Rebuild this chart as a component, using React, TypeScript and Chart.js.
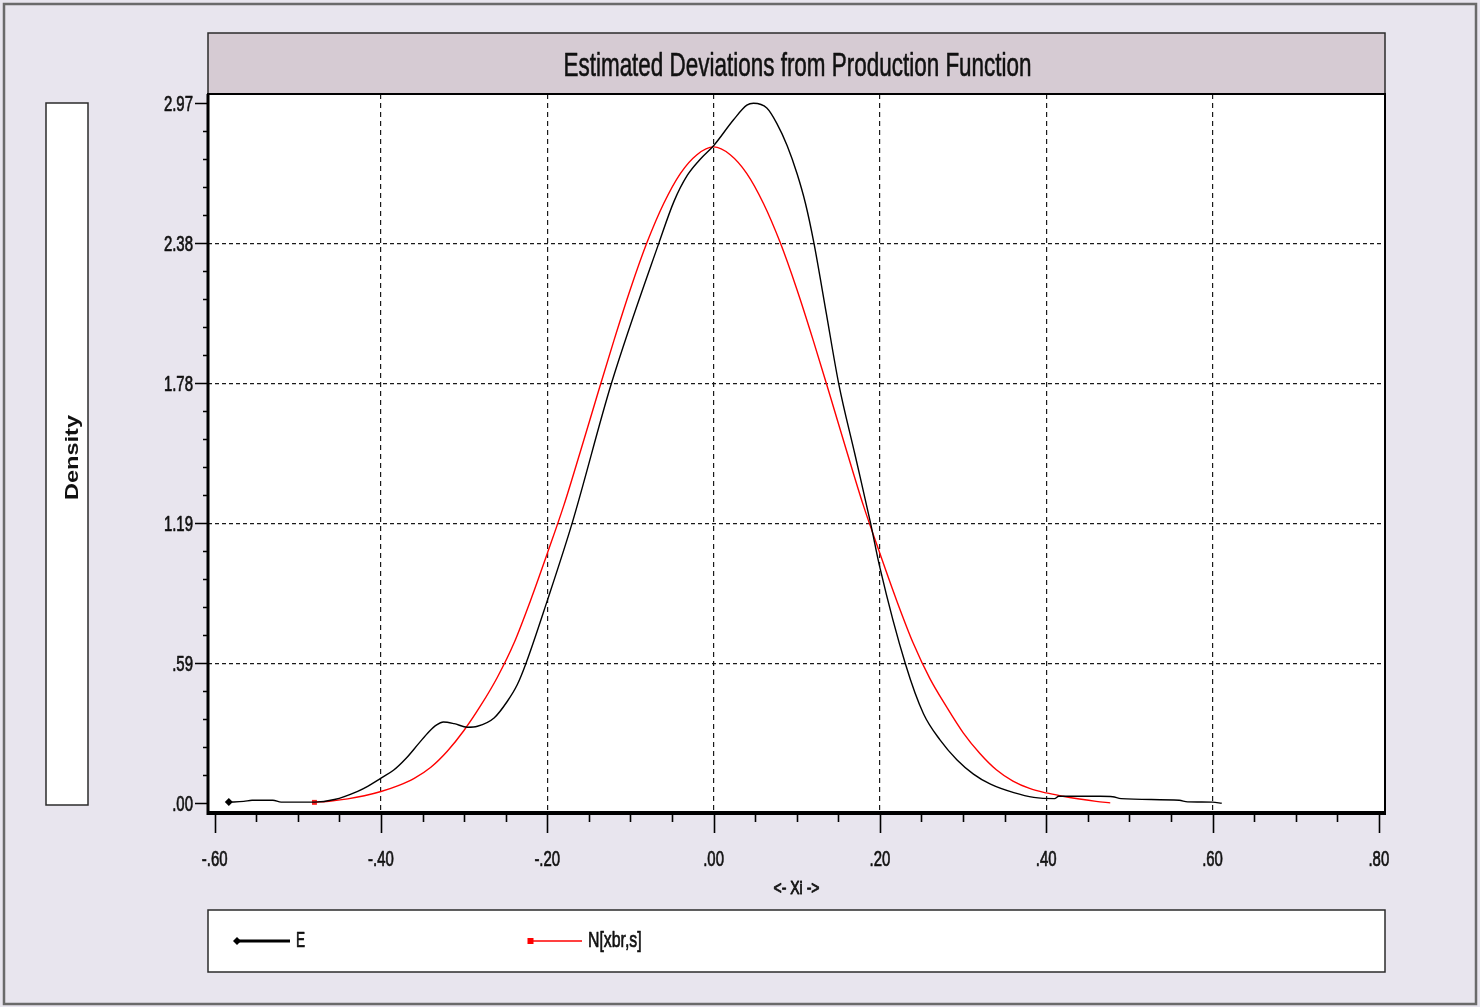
import React, { useEffect, useRef } from "react";
import { Chart, registerables } from "chart.js";

Chart.register(...registerables);

// ---------- data ----------
const chartTitle = "Estimated Deviations from Production Function";
const xAxisTitle = "<- Xi ->";
const yAxisTitle = "Density";
const seriesLabels = ["E", "N[xbr,s]"];

const xTickValues = [-0.6, -0.4, -0.2, 0, 0.2, 0.4, 0.6, 0.8];
const xTickLabels = ["-.60", "-.40", "-.20", ".00", ".20", ".40", ".60", ".80"];
const yTickValues = [0, 0.594, 1.188, 1.782, 2.376, 2.97];
const yTickLabels = [".00", ".59", "1.19", "1.78", "2.38", "2.97"];

// Kernel density estimate "E"
const eX = [
  -0.583, -0.565, -0.555, -0.53, -0.52, -0.48, -0.456, -0.428, -0.416, -0.4,
  -0.385, -0.37, -0.355, -0.342, -0.333, -0.325, -0.312, -0.296, -0.284, -0.264,
  -0.248, -0.236, -0.226, -0.2, -0.17, -0.123, -0.0655, -0.0475, -0.0315, -0.0155,
  0.0, 0.024, 0.04, 0.048, 0.064, 0.076, 0.0885, 0.1005, 0.1105, 0.1205,
  0.1355, 0.1505, 0.17, 0.1887, 0.2, 0.2308, 0.2524, 0.2725, 0.2925, 0.3125,
  0.333, 0.361, 0.385, 0.41, 0.415, 0.465, 0.48, 0.49, 0.56, 0.57,
  0.6, 0.611,
];
const eY = [
  0.005, 0.008, 0.013, 0.013, 0.005, 0.005, 0.016, 0.051, 0.072, 0.107,
  0.14, 0.19, 0.252, 0.305, 0.333, 0.345, 0.338, 0.323, 0.327, 0.362,
  0.433, 0.504, 0.59, 0.86, 1.19, 1.78, 2.38, 2.555, 2.665, 2.735,
  2.79, 2.9, 2.962, 2.97, 2.95, 2.885, 2.79, 2.67, 2.545, 2.38,
  2.08, 1.78, 1.48, 1.19, 1.0, 0.59, 0.38, 0.268, 0.185, 0.124,
  0.081, 0.045, 0.025, 0.02, 0.03, 0.03, 0.028, 0.02, 0.013, 0.006,
  0.005, 0.0,
];

// Normal reference curve "N[xbr,s]"
const nX = [
  -0.48, -0.46, -0.44, -0.42, -0.4, -0.38, -0.36, -0.34, -0.32, -0.3,
  -0.28, -0.26, -0.24, -0.22, -0.2, -0.18, -0.16, -0.14, -0.12, -0.1,
  -0.08, -0.06, -0.04, -0.02, 0.0, 0.02, 0.04, 0.06, 0.08, 0.1,
  0.12, 0.14, 0.16, 0.18, 0.2, 0.22, 0.24, 0.26, 0.28, 0.3,
  0.32, 0.34, 0.36, 0.38, 0.4, 0.42, 0.44, 0.46, 0.477,
];
const nY = [
  0.004, 0.01, 0.019, 0.032, 0.05, 0.074, 0.106, 0.153, 0.222, 0.31,
  0.415, 0.535, 0.68, 0.862, 1.06, 1.265, 1.495, 1.73, 1.962, 2.182,
  2.38, 2.545, 2.672, 2.752, 2.785, 2.752, 2.672, 2.545, 2.38, 2.182,
  1.962, 1.73, 1.495, 1.265, 1.06, 0.862, 0.68, 0.53, 0.41, 0.3,
  0.212, 0.142, 0.094, 0.063, 0.044, 0.03, 0.018, 0.008, 0.002,
];

// ---------- drawing helpers ----------
const FONT = '"Liberation Sans", Arial, Helvetica, sans-serif';

function squash(
  ctx: CanvasRenderingContext2D,
  text: string,
  x: number,
  y: number,
  size: number,
  sx: number | null,
  align: "left" | "center" | "right",
  weight = "normal",
  targetWidth?: number,
  strokeW = 0.7
) {
  ctx.save();
  ctx.font = `${weight} ${size}px ${FONT}`;
  ctx.textBaseline = "alphabetic";
  ctx.textAlign = "left";
  const natural = ctx.measureText(text).width;
  const s = targetWidth ? targetWidth / natural : (sx as number);
  const w = natural * s;
  const left = align === "center" ? x - w / 2 : align === "right" ? x - w : x;
  ctx.translate(left, y);
  ctx.scale(s, 1);
  ctx.fillStyle = "#111";
  ctx.fillText(text, 0, 0);
  if (strokeW > 0) {
    ctx.strokeStyle = "#111";
    ctx.lineWidth = strokeW;
    ctx.lineJoin = "round";
    ctx.strokeText(text, 0, 0);
  }
  ctx.restore();
}

const decorPlugin = {
  id: "decor",
  beforeDraw(chart: any) {
    const { ctx, chartArea: a, width, height } = chart;
    ctx.save();
    ctx.fillStyle = "#E8E5EE";
    ctx.fillRect(0, 0, width, height);
    ctx.strokeStyle = "#6a6a6a";
    ctx.lineWidth = 2.5;
    ctx.strokeRect(4, 4, width - 8, height - 7);

    // title box
    ctx.fillStyle = "#D6CBD3";
    ctx.fillRect(a.left, 33, a.right - a.left, a.top - 33);
    ctx.strokeStyle = "#2b2b2b";
    ctx.lineWidth = 1.5;
    ctx.strokeRect(a.left, 33, a.right - a.left, a.top - 33);

    // y-axis title box
    ctx.fillStyle = "#ffffff";
    ctx.fillRect(46, 103, 42, 702);
    ctx.strokeRect(46, 103, 42, 702);

    // legend box
    ctx.fillRect(a.left, 910, a.right - a.left, 62);
    ctx.strokeRect(a.left, 910, a.right - a.left, 62);

    // plot area
    ctx.fillRect(a.left, a.top, a.right - a.left, a.bottom - a.top);
    ctx.restore();
  },
  afterDraw(chart: any) {
    const { ctx, chartArea: a } = chart;
    const xs = chart.scales.x;
    const ys = chart.scales.y;
    ctx.save();
    ctx.strokeStyle = "#000";

    // plot frame
    ctx.lineWidth = 2;
    ctx.strokeRect(a.left, a.top, a.right - a.left, a.bottom - a.top);
    ctx.lineWidth = 3;
    ctx.beginPath();
    ctx.moveTo(a.left, a.top);
    ctx.lineTo(a.left, a.bottom + 1.5);
    ctx.lineTo(a.right + 1, a.bottom + 1.5);
    ctx.stroke();

    // x ticks
    const xv: number[] = xs.ticks.map((t: any) => t.value);
    ctx.lineWidth = 1.6;
    ctx.beginPath();
    xv.forEach((v, i) => {
      const px = Math.round(xs.getPixelForValue(v)) + 0.5;
      ctx.moveTo(px, a.bottom);
      ctx.lineTo(px, a.bottom + 21);
      if (i < xv.length - 1) {
        for (let k = 1; k < 4; k++) {
          const mv = v + ((xv[i + 1] - v) * k) / 4;
          const mp = Math.round(xs.getPixelForValue(mv)) + 0.5;
          ctx.moveTo(mp, a.bottom);
          ctx.lineTo(mp, a.bottom + 10);
        }
      }
    });
    ctx.stroke();

    // y ticks
    const yv: number[] = ys.ticks.map((t: any) => t.value);
    ctx.beginPath();
    yv.forEach((v, i) => {
      const py = Math.round(ys.getPixelForValue(v)) + 0.5;
      ctx.moveTo(a.left - 13, py);
      ctx.lineTo(a.left, py);
      if (i < yv.length - 1) {
        for (let k = 1; k < 5; k++) {
          const mv = v + ((yv[i + 1] - v) * k) / 5;
          const mp = Math.round(ys.getPixelForValue(mv)) + 0.5;
          ctx.moveTo(a.left - 5, mp);
          ctx.lineTo(a.left, mp);
        }
      }
    });
    ctx.stroke();

    // tick labels
    xs.ticks.forEach((t: any) => {
      const px = xs.getPixelForValue(t.value);
      const lab = xTickLabels[xTickValues.indexOf(t.value)] ?? String(t.label);
      squash(ctx, lab, px, 866, 22, 0.68, "center");
    });
    ys.ticks.forEach((t: any) => {
      const py = ys.getPixelForValue(t.value);
      const lab = yTickLabels[yTickValues.indexOf(t.value)] ?? String(t.label);
      squash(ctx, lab, a.left - 15, py + 8, 22, 0.68, "right");
    });

    // title
    squash(ctx, chartTitle, (a.left + a.right) / 2 + 1, 76, 33, null, "center", "normal", 468, 0.6);
    // x axis title
    squash(ctx, xAxisTitle, (a.left + a.right) / 2, 893.5, 19, null, "center", "normal", 46, 0.9);

    // y axis title (rotated)
    ctx.save();
    ctx.translate(78, 457.5);
    ctx.rotate(-Math.PI / 2);
    ctx.font = `bold 18px ${FONT}`;
    const nat = ctx.measureText(yAxisTitle).width;
    const s = 85 / nat;
    ctx.scale(s, 1);
    ctx.textAlign = "center";
    ctx.textBaseline = "alphabetic";
    ctx.fillStyle = "#111";
    ctx.fillText(yAxisTitle, 0, 0);
    ctx.restore();

    // legend
    const ds = chart.data.datasets;
    const ly = 941;
    // item 0
    ctx.strokeStyle = ds[0].borderColor;
    ctx.lineWidth = 3;
    ctx.beginPath();
    ctx.moveTo(237, ly);
    ctx.lineTo(290, ly);
    ctx.stroke();
    ctx.fillStyle = ds[0].borderColor;
    ctx.beginPath();
    ctx.moveTo(233, ly);
    ctx.lineTo(237, ly - 4);
    ctx.lineTo(241, ly);
    ctx.lineTo(237, ly + 4);
    ctx.closePath();
    ctx.fill();
    squash(ctx, ds[0].label, 296, 946.5, 22, 0.62, "left");
    // item 1
    ctx.strokeStyle = ds[1].borderColor;
    ctx.lineWidth = 1.5;
    ctx.beginPath();
    ctx.moveTo(530, ly);
    ctx.lineTo(582, ly);
    ctx.stroke();
    ctx.fillStyle = ds[1].borderColor;
    ctx.fillRect(527.5, ly - 3, 6, 6);
    squash(ctx, ds[1].label, 588, 946.5, 22, 0.72, "left");

    ctx.restore();
  },
};

export default function App() {
  const ref = useRef<HTMLCanvasElement | null>(null);

  useEffect(() => {
    const canvas = ref.current;
    if (!canvas) return;
    const chart = new Chart(canvas, {
      type: "line",
      data: {
        datasets: [
          {
            label: seriesLabels[0],
            data: eX.map((x, i) => ({ x, y: eY[i] })),
            borderColor: "#000000",
            backgroundColor: "#000000",
            borderWidth: 1.4,
            pointStyle: "rectRot",
            pointRadius: (c: any) => (c.dataIndex === 0 ? 4 : 0),
            pointBackgroundColor: "#000000",
            pointBorderColor: "#000000",
            pointBorderWidth: 0,
            cubicInterpolationMode: "monotone",
            fill: false,
          },
          {
            label: seriesLabels[1],
            data: nX.map((x, i) => ({ x, y: nY[i] })),
            borderColor: "#ff0000",
            backgroundColor: "#ff0000",
            borderWidth: 1.4,
            pointStyle: "rect",
            pointRadius: (c: any) => (c.dataIndex === 0 ? 3.5 : 0),
            pointBackgroundColor: "#ff2020",
            pointBorderColor: "#ff2020",
            pointBorderWidth: 0,
            cubicInterpolationMode: "monotone",
            fill: false,
          },
        ],
      },
      options: {
        responsive: false,
        devicePixelRatio: 1,
        animation: false,
        events: [],
        layout: { padding: { top: 94, right: 95, left: 0, bottom: 0 } },
        plugins: {
          legend: { display: false },
          title: { display: false },
          tooltip: { enabled: false },
        },
        scales: {
          x: {
            type: "linear",
            min: -0.608,
            max: 0.8074,
            afterBuildTicks: (s: any) => {
              s.ticks = xTickValues.map((v) => ({ value: v }));
            },
            afterFit: (s: any) => {
              s.height = 195;
            },
            ticks: { display: false },
            grid: {
              drawTicks: false,
              lineWidth: 1.2,
              color: (c: any) => {
                const v = c.tick ? c.tick.value : 0;
                return v <= -0.59 || v >= 0.79 ? "rgba(0,0,0,0)" : "#1a1a1a";
              },
            },
            border: { display: false, dash: [5, 4] },
          },
          y: {
            type: "linear",
            min: -0.0369,
            max: 3.0095,
            afterBuildTicks: (s: any) => {
              s.ticks = yTickValues.map((v) => ({ value: v }));
            },
            afterFit: (s: any) => {
              s.width = 208;
            },
            ticks: { display: false },
            grid: {
              drawTicks: false,
              lineWidth: 1.2,
              color: (c: any) => {
                const v = c.tick ? c.tick.value : 0;
                return v <= 0.01 || v >= 2.9 ? "rgba(0,0,0,0)" : "#1a1a1a";
              },
            },
            border: { display: false, dash: [4, 3] },
          },
        },
      } as any,
      plugins: [decorPlugin],
    });
    return () => chart.destroy();
  }, []);

  return (
    <div style={{ position: "absolute", left: 0, top: 0, width: 1480, height: 1007 }}>
      <canvas
        ref={ref}
        width={1480}
        height={1007}
        style={{ width: 1480, height: 1007, display: "block" }}
      />
    </div>
  );
}
